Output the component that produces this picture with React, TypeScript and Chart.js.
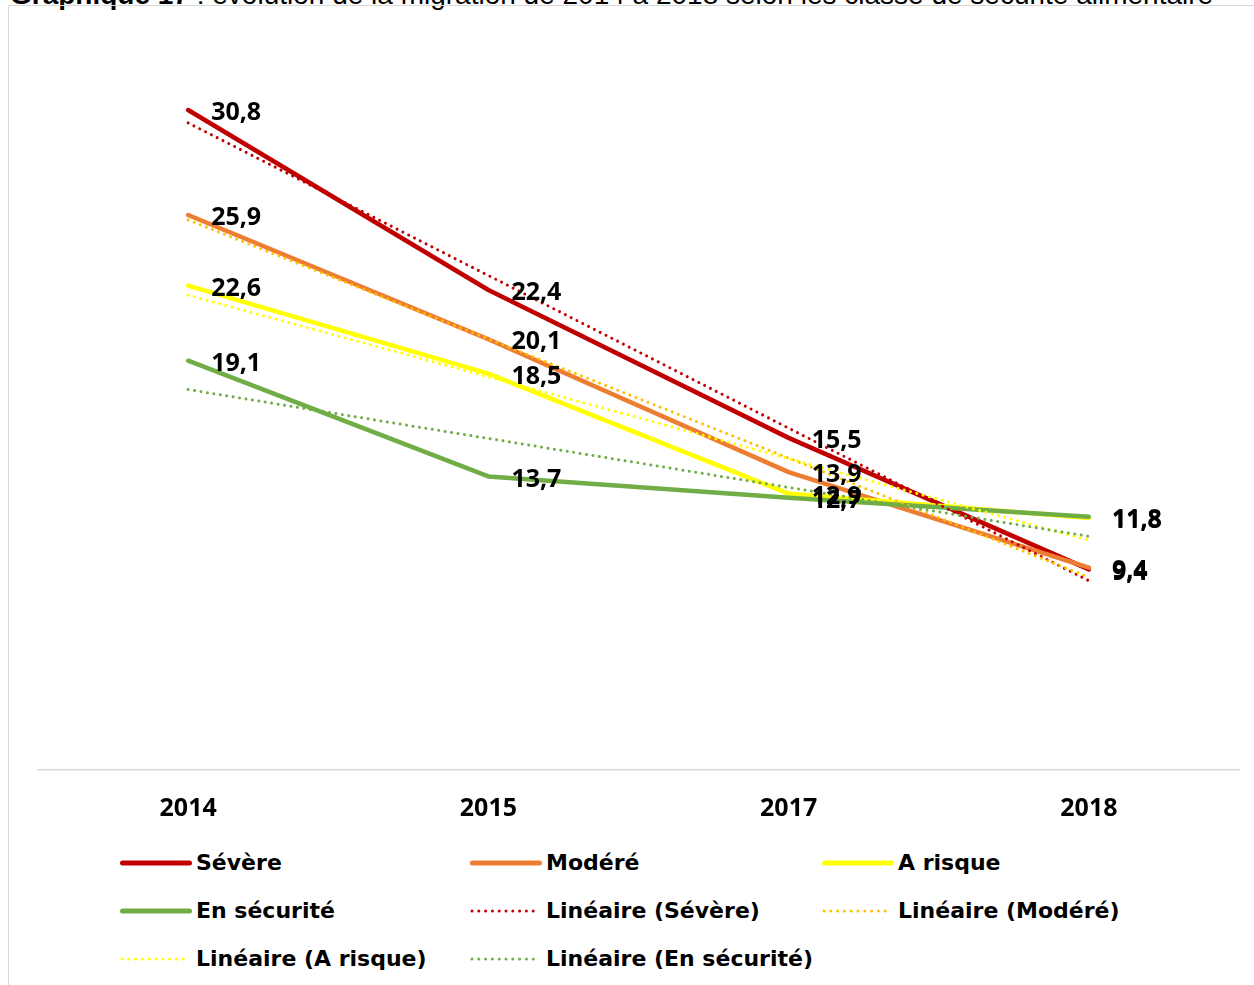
import React, { useEffect, useRef } from "react";
import { Chart, registerables } from "chart.js";

Chart.register(...registerables);

const years = ["2014", "2015", "2017", "2018"];
const severe = [30.8, 22.4, 15.5, 9.36];
const modere = [25.9, 20.1, 13.9, 9.44];
const aRisque = [22.6, 18.5, 12.9, 11.76];
const enSecurite = [19.1, 13.7, 12.7, 11.82];
const seriesNames = ["Sévère", "Modéré", "A risque", "En sécurité"];
const seriesColors = ["#C00000", "#ED7D31", "#FFFF00", "#70AD47"];
const trendColors = ["#C00000", "#FFC000", "#FFFF00", "#70AD47"];
const trendPrefix = "Linéaire";
const yMin = 0;
const yMax = 35;
const titleBold = "Graphique 17";
const titleRest = " : évolution de la migration de 2014 à 2018 selon les classe de sécurité alimentaire";

const NUM_FONT = "'Open Sans', 'DejaVu Sans', sans-serif";
const LEG_FONT = "'DejaVu Sans', 'Open Sans', sans-serif";

// Excel-style linear trendline (least squares on category index 1..n)
function linearTrend(values: number[]): number[] {
  const n = values.length;
  const xs = values.map((_, i) => i + 1);
  const mx = xs.reduce((a, b) => a + b, 0) / n;
  const my = values.reduce((a, b) => a + b, 0) / n;
  let sxy = 0;
  let sxx = 0;
  for (let i = 0; i < n; i++) {
    sxy += (xs[i] - mx) * (values[i] - my);
    sxx += (xs[i] - mx) * (xs[i] - mx);
  }
  const slope = sxy / sxx;
  return xs.map((x) => my + slope * (x - mx));
}

const fmt = (v: number) => v.toFixed(1).replace(".", ",");

const labelPlugin = {
  id: "valueLabels",
  afterDatasetsDraw(chart: any) {
    const ctx = chart.ctx;
    ctx.save();
    ctx.font = `bold 25px ${NUM_FONT}`;
    ctx.fillStyle = "#000";
    ctx.textAlign = "left";
    ctx.textBaseline = "middle";
    chart.data.datasets.forEach((ds: any, di: number) => {
      if (!ds.isMain) return;
      const meta = chart.getDatasetMeta(di);
      meta.data.forEach((pt: any, j: number) => {
        ctx.fillText(fmt(ds.data[j]), pt.x + 23, pt.y + 3);
      });
    });
    ctx.restore();
  },
};

const allSeries = [severe, modere, aRisque, enSecurite];

export default function App() {
  const canvasRef = useRef<HTMLCanvasElement | null>(null);

  useEffect(() => {
    if (!canvasRef.current) return;
    const mainSets = allSeries.map((vals, i) => ({
      label: seriesNames[i],
      data: vals,
      borderColor: seriesColors[i],
      backgroundColor: seriesColors[i],
      borderWidth: 4.5,
      pointRadius: 0,
      tension: 0,
      borderCapStyle: "round",
      borderJoinStyle: "round",
      order: 8 - i,
      isMain: true,
    }));
    const trendSets = allSeries.map((vals, i) => ({
      label: `${trendPrefix} (${seriesNames[i]})`,
      data: linearTrend(vals),
      borderColor: trendColors[i],
      backgroundColor: trendColors[i],
      borderWidth: 3,
      borderDash: [0.01, 6.5],
      borderCapStyle: "round",
      pointRadius: 0,
      tension: 0,
      order: 4 - i,
      isMain: false,
    }));
    const chart = new Chart(canvasRef.current, {
      type: "line",
      data: { labels: years, datasets: [...mainSets, ...trendSets] as any },
      options: {
        responsive: false,
        animation: false,
        layout: { padding: { left: 38, right: 15, top: 20, bottom: 0 } },
        plugins: {
          legend: { display: false },
          tooltip: { enabled: false },
          title: { display: false },
        },
        scales: {
          x: {
            offset: true,
            grid: { display: false, drawTicks: false },
            border: { display: true, color: "#d9d9d9", width: 1.5 },
            ticks: {
              color: "#000",
              font: { family: NUM_FONT, size: 25, weight: "bold" },
              padding: 24,
            },
            afterFit: (scale: any) => {
              scale.height = 50;
            },
          },
          y: {
            display: false,
            min: yMin,
            max: yMax,
          },
        },
      },
      plugins: [labelPlugin],
    });
    return () => chart.destroy();
  }, []);

  const legendItems = [
    ...seriesNames.map((n, i) => ({ label: n, color: seriesColors[i], dotted: false })),
    ...seriesNames.map((n, i) => ({ label: `${trendPrefix} (${n})`, color: trendColors[i], dotted: true })),
  ];
  const colX = [120, 470, 822];
  const rowY = [863, 911, 959];

  return (
    <div
      style={{
        position: "absolute",
        left: 0,
        top: 0,
        width: 1254,
        height: 985,
        overflow: "hidden",
        background: "#fff",
      }}
    >
      <div
        style={{
          position: "absolute",
          left: 10,
          top: -21,
          whiteSpace: "nowrap",
          fontFamily: "'Liberation Sans', Arial, sans-serif",
          fontSize: 28,
          color: "#000",
        }}
      >
        <b>{titleBold}</b>
        {titleRest}
      </div>
      <div
        style={{
          position: "absolute",
          left: 8,
          top: 5,
          width: 1300,
          height: 1100,
          border: "1px solid #d9d9d9",
          boxSizing: "border-box",
        }}
      />
      <canvas
        ref={canvasRef}
        width={1254}
        height={820}
        style={{ position: "absolute", left: 0, top: 0, width: 1254, height: 820 }}
      />
      {legendItems.map((it, i) => {
        const col = i % 3;
        const row = Math.floor(i / 3);
        return (
          <div
            key={i}
            style={{
              position: "absolute",
              left: colX[col],
              top: rowY[row] - 16,
              height: 32,
              display: "flex",
              alignItems: "center",
              whiteSpace: "nowrap",
            }}
          >
            <svg width={72} height={10} style={{ display: "block" }}>
              {it.dotted ? (
                <line
                  x1={2}
                  y1={5}
                  x2={70}
                  y2={5}
                  stroke={it.color}
                  strokeWidth={3}
                  strokeDasharray="0 6.8"
                  strokeLinecap="round"
                />
              ) : (
                <line x1={2.5} y1={5} x2={69.5} y2={5} stroke={it.color} strokeWidth={5} strokeLinecap="round" />
              )}
            </svg>
            <span
              style={{
                marginLeft: 4,
                fontFamily: LEG_FONT,
                fontWeight: "bold",
                fontSize: 22,
                color: "#000",
                lineHeight: "32px",
              }}
            >
              {it.label}
            </span>
          </div>
        );
      })}
    </div>
  );
}
